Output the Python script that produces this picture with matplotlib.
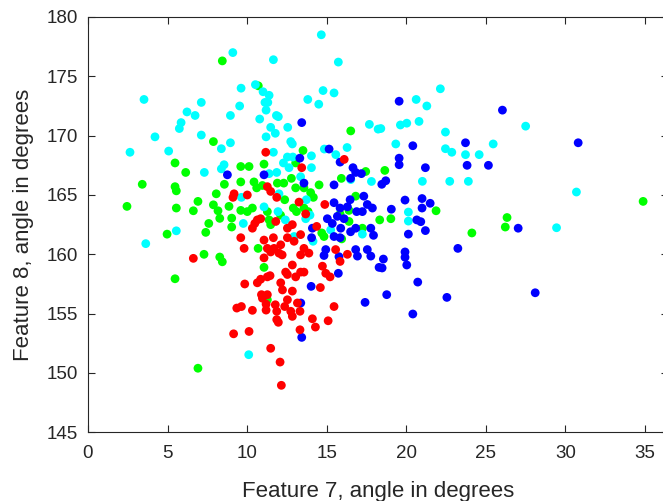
import numpy as np
import matplotlib.pyplot as plt

plt.rcParams['font.family'] = ['Liberation Sans', 'DejaVu Sans']

# Feature 7 (x) / Feature 8 (y), angles in degrees, one list pair per class
red_x = [11.17, 16.1, 9.11, 6.62, 9.15, 9.35, 9.64, 12.07, 12.15, 11.48, 15.46, 14.1, 14.29, 15.09,
         13.32, 10.12, 10.33, 11.19, 11.19, 11.77, 11.86, 11.86, 11.96, 12.36, 12.53, 12.74, 12.84,
         13.16, 13.32, 10.96, 13.43, 11.27, 11.48, 9.18, 10.01, 11.86, 13.26, 14.88, 10.64, 10.48,
         10.33, 10.85, 11.8, 12.53, 12.84, 13.68, 14.37, 9.6, 9.81, 11.06, 11.27, 11.65, 12.53,
         12.95, 12.11, 12.0, 12.2, 11.69, 11.48, 13.36, 13.57, 13.36, 13.88, 11.06, 15.56, 15.84,
         16.3, 13.36, 12.84, 12.42, 12.53, 11.44, 11.27, 10.85, 9.85, 10.64, 12.11, 13.05, 13.57,
         14.73, 14.94, 15.21, 14.6, 12.22, 12.84, 10.9, 11.27]
red_y = [168.6, 168.0, 164.8, 159.66, 153.3, 155.47, 155.6, 150.92, 148.96, 152.08, 155.6, 154.57,
         153.87, 154.4, 153.64, 153.5, 155.28, 155.3, 155.8, 155.75, 155.2, 154.5, 154.27, 155.6,
         156.17, 155.2, 154.77, 155.9, 155.2, 156.3, 167.3, 165.7, 165.3, 165.1, 165.0, 164.8,
         164.4, 164.2, 162.9, 162.6, 162.2, 163.0, 162.77, 162.2, 162.5, 163.4, 162.35, 161.4,
         160.5, 161.2, 160.5, 161.4, 161.4, 161.1, 160.8, 160.1, 159.95, 160.5, 160.2, 161.66,
         160.5, 159.95, 160.1, 159.7, 160.4, 159.4, 160.0, 158.5, 159.1, 158.5, 158.3, 158.2,
         158.1, 157.9, 157.5, 157.6, 157.6, 158.1, 158.5, 159.0, 158.4, 158.1, 157.2, 157.0,
         156.9, 156.6, 156.6]

green_x = [8.44, 7.88, 10.7, 16.51, 13.51, 18.65, 21.87, 19.03, 18.33, 26.33, 26.22, 24.12, 34.88,
           5.47, 6.14, 3.41, 5.47, 5.55, 8.57, 8.06, 2.45, 5.55, 6.91, 6.62, 7.88, 8.17, 8.86,
           8.28, 9.03, 9.03, 7.59, 7.4, 4.97, 7.29, 8.28, 8.44, 5.47, 6.91, 11.27, 9.6, 10.12,
           11.06, 13.05, 17.45, 9.6, 10.43, 11.9, 12.3, 14.52, 12.78, 15.92, 10.6, 10.96, 13.05,
           13.57, 13.99, 14.16, 12.36, 16.82, 9.6, 10.01, 10.33, 11.27, 12.9, 13.1, 13.57, 13.83,
           11.38, 11.48, 12.1, 14.69, 14.83, 15.84, 16.4, 16.4, 17.24, 15.94, 10.69, 11.06]
green_y = [176.3, 169.5, 174.2, 170.4, 168.75, 167.07, 163.67, 163.0, 162.9, 163.1, 162.3, 161.8,
           164.46, 167.7, 166.9, 165.9, 165.7, 165.35, 165.9, 165.1, 164.04, 163.9, 164.46,
           163.67, 164.17, 163.67, 164.04, 163.03, 163.05, 162.3, 162.6, 161.85, 161.7, 160.0,
           159.77, 159.37, 157.94, 150.4, 156.17, 167.4, 167.4, 167.6, 167.7, 166.98, 166.1,
           166.1, 166.0, 166.0, 165.85, 166.4, 166.4, 165.6, 165.8, 165.6, 165.6, 165.2, 164.8,
           164.6, 164.9, 163.7, 163.6, 163.9, 163.6, 163.9, 163.6, 163.9, 163.6, 162.9, 162.5,
           163.3, 161.8, 161.5, 163.4, 163.7, 162.77, 162.2, 161.3, 160.5, 158.9]

blue_x = [13.43, 15.15, 13.31, 19.55, 26.04, 20.41, 23.72, 19.55, 30.8, 19.55, 21.2, 23.82, 25.16,
          18.71, 18.46, 19.92, 20.99, 21.5, 20.99, 19.06, 20.66, 20.91, 21.2, 20.13, 27.03, 23.24,
          19.92, 19.92, 20.03, 18.56, 18.48, 20.72, 18.77, 22.55, 20.41, 28.1, 8.76, 17.41, 13.43,
          13.37, 15.84, 16.65, 16.82, 16.5, 17.18, 11.06, 13.57, 15.46, 15.46, 15.84, 16.3, 17.33,
          17.55, 17.87, 17.24, 16.88, 16.47, 14.1, 15.04, 15.35, 15.67, 16.09, 15.88, 16.5, 16.82,
          17.77, 17.94, 15.46, 15.84, 14.05, 14.94, 14.83, 15.77, 16.82, 16.93, 17.55, 17.77,
          18.29, 15.73, 14.02]
blue_y = [171.1, 168.87, 168.1, 172.9, 172.15, 169.15, 169.4, 168.1, 169.4, 167.55, 167.3, 167.5,
          167.5, 166.2, 165.9, 164.57, 164.7, 164.3, 163.9, 163.8, 162.9, 162.75, 162.0, 161.7,
          162.2, 160.5, 160.2, 159.75, 159.1, 159.6, 158.85, 157.66, 156.6, 156.37, 154.97,
          156.76, 166.7, 155.95, 153.0, 155.9, 167.77, 167.3, 166.9, 166.4, 166.8, 166.7, 166.0,
          165.85, 164.35, 163.9, 164.0, 164.9, 164.2, 163.9, 163.6, 163.6, 164.6, 162.2, 163.0,
          162.6, 163.2, 163.0, 162.2, 161.9, 162.2, 162.2, 161.6, 161.5, 161.4, 161.4, 160.4,
          159.9, 159.8, 160.4, 159.85, 160.4, 159.85, 158.9, 158.4, 157.3]

cyan_x = [9.1, 3.52, 7.12, 6.22, 6.73, 8.95, 5.85, 5.74, 4.21, 7.12, 8.95, 8.38, 2.64, 5.07, 14.66,
          11.65, 15.73, 9.62, 10.52, 11.0, 11.38, 14.77, 15.46, 13.81, 9.53, 11.12, 11.3, 14.5,
          11.19, 11.84, 11.96, 10.79, 11.48, 11.77, 12.55, 11.19, 17.68, 18.23, 12.74, 12.84,
          14.85, 16.28, 15.57, 11.65, 14.04, 12.53, 12.87, 22.14, 20.62, 21.29, 18.4, 19.63, 20.03,
          20.8, 22.46, 27.5, 19.34, 25.46, 22.46, 22.86, 23.72, 24.58, 21.01, 22.73, 23.9, 20.13,
          20.13, 30.69, 29.44, 7.31, 8.55, 8.38, 5.55, 3.63, 10.1, 12.28, 12.63, 14.04, 17.81,
          11.38, 11.86, 13.36, 16.51, 9.64, 12.0, 13.72, 11.06, 11.94, 9.76, 12.4, 13.68, 13.95,
          15.25, 17.24, 12.95, 14.14]
cyan_y = [177.0, 173.05, 172.8, 172.0, 171.7, 171.7, 171.1, 170.6, 169.9, 170.05, 169.4, 168.9,
          168.6, 168.7, 178.5, 176.4, 176.2, 174.0, 174.3, 173.7, 173.4, 173.8, 173.6, 173.05,
          172.5, 172.8, 172.8, 172.65, 172.15, 171.7, 171.6, 171.4, 170.7, 170.2, 170.7, 169.9,
          170.95, 170.55, 169.5, 169.3, 168.87, 169.0, 168.4, 168.6, 168.3, 168.2, 168.2, 173.95,
          173.05, 172.5, 170.6, 170.9, 171.05, 171.2, 170.3, 170.8, 169.3, 169.3, 168.9, 168.6,
          168.4, 168.4, 166.15, 166.15, 166.15, 163.56, 162.8, 165.25, 162.24, 166.9, 167.55,
          167.2, 161.98, 160.9, 151.54, 167.7, 167.3, 167.3, 166.14, 166.8, 166.9, 166.54, 166.3,
          164.8, 165.1, 164.6, 164.0, 163.6, 162.6, 162.9, 163.0, 163.3, 162.06, 161.7, 161.5,
          161.1]

fig = plt.figure(figsize=(6.63, 5.01), dpi=100)
# right edge of the box lies just outside the picture, as in the original export
ax = fig.add_axes([0.1327, 0.1371, 0.875, 0.829])

s = 40
ax.scatter(green_x, green_y, s=s, c='#00ff00', edgecolors='none', zorder=2)
ax.scatter(cyan_x, cyan_y, s=s, c='#00ffff', edgecolors='none', zorder=3)
ax.scatter(blue_x, blue_y, s=s, c='#0000ff', edgecolors='none', zorder=4)
ax.scatter(red_x, red_y, s=s, c='#ff0000', edgecolors='none', zorder=5)

ax.set_xlim(0, 36.45)
ax.set_ylim(145, 180)
ax.set_xticks(np.arange(0, 36, 5))
ax.set_yticks(np.arange(145, 181, 5))
ax.tick_params(direction='in', top=True, right=True, length=5, width=0.8,
               labelsize=13.5, colors='#262626')
ax.tick_params(axis='x', pad=9)
ax.tick_params(axis='y', pad=7)
for sp in ax.spines.values():
    sp.set_color('#262626')
    sp.set_linewidth(0.8)

ax.set_xlabel('Feature 7, angle in degrees', fontsize=16, color='#262626', labelpad=14)
ax.set_ylabel('Feature 8, angle in degrees', fontsize=16, color='#262626', labelpad=9)

fig.savefig('out.png', dpi=100)
